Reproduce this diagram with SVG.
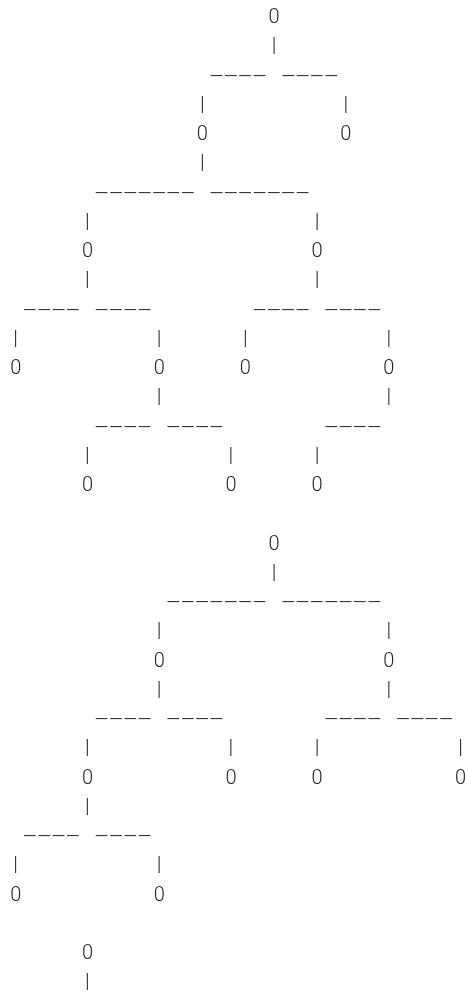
<svg xmlns="http://www.w3.org/2000/svg" width="468" height="992" viewBox="0 0 468 992">
<style>
text{font-family:Roboto,"Liberation Sans",sans-serif;font-weight:300;font-size:20px;fill:#262626}
.n,.b{text-anchor:middle}
.b{font-size:21px}
</style>
<defs>
<filter id="gray" x="0" y="0" width="468" height="992" filterUnits="userSpaceOnUse"><feColorMatrix type="saturate" values="0"/></filter>
</defs>
<rect width="468" height="992" fill="#fff"/>
<g filter="url(#gray)">
<rect width="468" height="992" fill="#fff"/>
<g id="connectors">
<text class="b" x="273.98" y="52.35">|</text>
<text x="209.4" y="81.6" textLength="57.4" lengthAdjust="spacingAndGlyphs">----</text>
<text x="281.15" y="81.6" textLength="57.4" lengthAdjust="spacingAndGlyphs">----</text>
<text class="b" x="202.23" y="110.85">|</text>
<text class="b" x="345.73" y="110.85">|</text>
<text class="b" x="202.23" y="169.35">|</text>
<text x="94.6" y="198.6" textLength="100.45" lengthAdjust="spacingAndGlyphs">-------</text>
<text x="209.4" y="198.6" textLength="100.45" lengthAdjust="spacingAndGlyphs">-------</text>
<text class="b" x="87.43" y="227.85">|</text>
<text class="b" x="317.03" y="227.85">|</text>
<text class="b" x="87.43" y="286.35">|</text>
<text class="b" x="317.03" y="286.35">|</text>
<text x="22.85" y="315.6" textLength="57.4" lengthAdjust="spacingAndGlyphs">----</text>
<text x="94.6" y="315.6" textLength="57.4" lengthAdjust="spacingAndGlyphs">----</text>
<text x="252.45" y="315.6" textLength="57.4" lengthAdjust="spacingAndGlyphs">----</text>
<text x="324.2" y="315.6" textLength="57.4" lengthAdjust="spacingAndGlyphs">----</text>
<text class="b" x="15.68" y="344.85">|</text>
<text class="b" x="159.18" y="344.85">|</text>
<text class="b" x="245.28" y="344.85">|</text>
<text class="b" x="388.78" y="344.85">|</text>
<text class="b" x="159.18" y="403.35">|</text>
<text class="b" x="388.78" y="403.35">|</text>
<text x="94.6" y="432.6" textLength="57.4" lengthAdjust="spacingAndGlyphs">----</text>
<text x="166.35" y="432.6" textLength="57.4" lengthAdjust="spacingAndGlyphs">----</text>
<text x="324.2" y="432.6" textLength="57.4" lengthAdjust="spacingAndGlyphs">----</text>
<text class="b" x="87.43" y="461.85">|</text>
<text class="b" x="230.93" y="461.85">|</text>
<text class="b" x="317.03" y="461.85">|</text>
<text class="b" x="273.98" y="578.85">|</text>
<text x="166.35" y="608.1" textLength="100.45" lengthAdjust="spacingAndGlyphs">-------</text>
<text x="281.15" y="608.1" textLength="100.45" lengthAdjust="spacingAndGlyphs">-------</text>
<text class="b" x="159.18" y="637.35">|</text>
<text class="b" x="388.78" y="637.35">|</text>
<text class="b" x="159.18" y="695.85">|</text>
<text class="b" x="388.78" y="695.85">|</text>
<text x="94.6" y="725.1" textLength="57.4" lengthAdjust="spacingAndGlyphs">----</text>
<text x="166.35" y="725.1" textLength="57.4" lengthAdjust="spacingAndGlyphs">----</text>
<text x="324.2" y="725.1" textLength="57.4" lengthAdjust="spacingAndGlyphs">----</text>
<text x="395.95" y="725.1" textLength="57.4" lengthAdjust="spacingAndGlyphs">----</text>
<text class="b" x="87.43" y="754.35">|</text>
<text class="b" x="230.93" y="754.35">|</text>
<text class="b" x="317.03" y="754.35">|</text>
<text class="b" x="460.53" y="754.35">|</text>
<text class="b" x="87.43" y="812.85">|</text>
<text x="22.85" y="842.1" textLength="57.4" lengthAdjust="spacingAndGlyphs">----</text>
<text x="94.6" y="842.1" textLength="57.4" lengthAdjust="spacingAndGlyphs">----</text>
<text class="b" x="15.68" y="871.35">|</text>
<text class="b" x="159.18" y="871.35">|</text>
<text class="b" x="87.43" y="988.35">|</text>
</g>
<g id="n1"><text class="n" x="273.98" y="23.1">0</text></g>
<g id="n2"><text class="n" x="202.23" y="140.1">0</text></g>
<g id="n3"><text class="n" x="345.73" y="140.1">0</text></g>
<g id="n4"><text class="n" x="87.43" y="257.1">0</text></g>
<g id="n5"><text class="n" x="317.03" y="257.1">0</text></g>
<g id="n6"><text class="n" x="15.68" y="374.1">0</text></g>
<g id="n7"><text class="n" x="159.18" y="374.1">0</text></g>
<g id="n8"><text class="n" x="245.28" y="374.1">0</text></g>
<g id="n9"><text class="n" x="388.78" y="374.1">0</text></g>
<g id="n10"><text class="n" x="87.43" y="491.1">0</text></g>
<g id="n11"><text class="n" x="230.93" y="491.1">0</text></g>
<g id="n12"><text class="n" x="317.03" y="491.1">0</text></g>
<g id="n13"><text class="n" x="273.98" y="549.6">0</text></g>
<g id="n14"><text class="n" x="159.18" y="666.6">0</text></g>
<g id="n15"><text class="n" x="388.78" y="666.6">0</text></g>
<g id="n16"><text class="n" x="87.43" y="783.6">0</text></g>
<g id="n17"><text class="n" x="230.93" y="783.6">0</text></g>
<g id="n18"><text class="n" x="317.03" y="783.6">0</text></g>
<g id="n19"><text class="n" x="460.53" y="783.6">0</text></g>
<g id="n20"><text class="n" x="15.68" y="900.6">0</text></g>
<g id="n21"><text class="n" x="159.18" y="900.6">0</text></g>
<g id="n22"><text class="n" x="87.43" y="959.1">0</text></g>
</g>
</svg>
